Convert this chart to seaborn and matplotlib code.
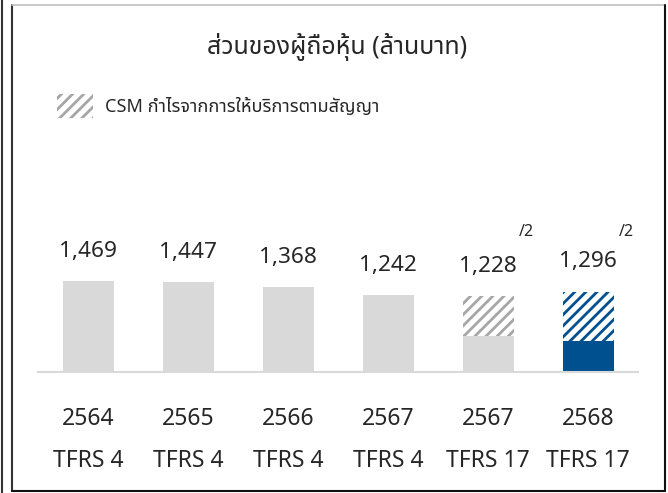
import numpy as np
import pandas as pd
import matplotlib
matplotlib.use("Agg")
import matplotlib.pyplot as plt
import seaborn as sns
from matplotlib import font_manager
from matplotlib.ft2font import FT2Font
from matplotlib.patches import Patch
from matplotlib.lines import Line2D

# ---- data ----
years = ["2564", "2565", "2566", "2567", "2567", "2568"]
standards = ["TFRS 4", "TFRS 4", "TFRS 4", "TFRS 4", "TFRS 17", "TFRS 17"]
totals = [1469, 1447, 1368, 1242, 1228, 1296]
value_labels = ["1,469", "1,447", "1,368", "1,242", "1,228", "1,296"]
base_part = [1469, 1447, 1368, 1242, 582, 500]
notes = ["", "", "", "", "/2", "/2"]
title = "ส่วนของผู้ถือหุ้น (ล้านบาท)"
legend_label = "CSM กำไรจากการให้บริการตามสัญญา"


def find_thai_fonts():
    found = []
    for f in font_manager.fontManager.ttflist:
        try:
            cm = FT2Font(f.fname).get_charmap()
        except Exception:
            continue
        if 0x0E2A in cm and 0x0E49 in cm and f.name not in found:
            found.append(f.name)
    return found


sns.set_theme(style="white")
thai = find_thai_fonts()
thai_font = None
for pref in ["Noto Sans Thai", "IBM Plex Sans Thai", "Sarabun"]:
    if pref in thai:
        thai_font = pref
        break
if thai_font is None and thai:
    thai_font = thai[0]
plt.rcParams["font.family"] = ["Noto Sans"] + ([thai_font] if thai_font else []) + ["DejaVu Sans"]
plt.rcParams["font.weight"] = "light"
plt.rcParams["hatch.linewidth"] = 2.0

GREY = "#D9D9D9"
HATCH_GREY = "#A6A6A6"
BLUE = "#00508F"
TXT = "#262626"

df = pd.DataFrame({
    "key": [f"{y} {s}" for y, s in zip(years, standards)],
    "total": totals,
    "base": base_part,
})

fig = plt.figure(figsize=(6.68, 4.93), dpi=100)
ax = fig.add_axes([38 / 668, 121 / 493, 600 / 668, 124 / 493])

order = list(df["key"])
top_colors = [GREY] * 4 + ["white", "white"]
sns.barplot(data=df, x="key", y="total", hue="key", order=order, hue_order=order,
            palette=top_colors, legend=False, width=0.51, saturation=1, ax=ax)
hatch_colors = [None, None, None, None, HATCH_GREY, BLUE]
for p, hc in zip(list(ax.patches), hatch_colors):
    p.set_linewidth(0)
    if hc is not None:
        p.set_hatch("///")
        p.set_edgecolor(hc)

n_before = len(ax.patches)
base_colors = [GREY] * 5 + [BLUE]
sns.barplot(data=df, x="key", y="base", hue="key", order=order, hue_order=order,
            palette=base_colors, legend=False, width=0.51, saturation=1, ax=ax)
for p in list(ax.patches)[n_before:]:
    p.set_linewidth(0)

ax.set_xlim(-0.5, len(totals) - 0.5)
ax.set_ylim(0, 2000)

for i, (t, lbl) in enumerate(zip(totals, value_labels)):
    ax.annotate(lbl, (i, t), xytext=(0, 21.5), textcoords="offset points",
                ha="center", va="center", fontsize=16.3, color=TXT)
for i, nt in enumerate(notes):
    if nt:
        ax.text(i + 0.385, 2258, nt, ha="center", va="center", fontsize=11.5, color=TXT)

ax.set_xlabel("")
ax.set_ylabel("")
ax.set_yticks([])
ax.set_xticks(range(len(years)), years)
ax.tick_params(axis="x", length=0, pad=25.5, labelsize=16.5, labelcolor=TXT)
sec = ax.secondary_xaxis("bottom")
sec.set_xticks(range(len(standards)), standards)
sec.tick_params(axis="x", length=0, pad=55.5, labelsize=16.5, labelcolor=TXT)
sec.spines["bottom"].set_visible(False)
for s in ["left", "top", "right"]:
    ax.spines[s].set_visible(False)
ax.spines["bottom"].set_color(GREY)
ax.spines["bottom"].set_linewidth(1.5)

leg = ax.legend(handles=[Patch(facecolor="white", edgecolor=HATCH_GREY, hatch="///",
                               linewidth=0, label=legend_label)],
                loc="center left", bbox_to_anchor=(57 / 668, 1 - 106 / 493),
                bbox_transform=fig.transFigure, frameon=False, fontsize=13,
                handlelength=2.0, handleheight=1.6, handletextpad=0.67,
                borderpad=0, borderaxespad=0)
for t in leg.get_texts():
    t.set_color(TXT)

fig.text(337 / 668, 1 - 47 / 493, title, ha="center", va="center", fontsize=18, color=TXT)

# outer frame
W, H = 668, 493
fig.add_artist(Line2D([1.5 / W, 1.5 / W], [0, 1], transform=fig.transFigure, color="#333333", lw=1.5))
fig.add_artist(Line2D([11.5 / W, 11.5 / W], [2 / H, 1 - 5 / H], transform=fig.transFigure, color="#333333", lw=1.5))
fig.add_artist(Line2D([11.5 / W, 664.5 / W], [1 - 5 / H, 1 - 5 / H], transform=fig.transFigure, color="#BFBFBF", lw=1.2))
fig.add_artist(Line2D([664.5 / W, 664.5 / W], [2 / H, 1 - 5 / H], transform=fig.transFigure, color="#111111", lw=1.5))
fig.add_artist(Line2D([11.5 / W, 664.5 / W], [2 / H, 2 / H], transform=fig.transFigure, color="#111111", lw=1.5))

fig.savefig("out.png", dpi=100)
